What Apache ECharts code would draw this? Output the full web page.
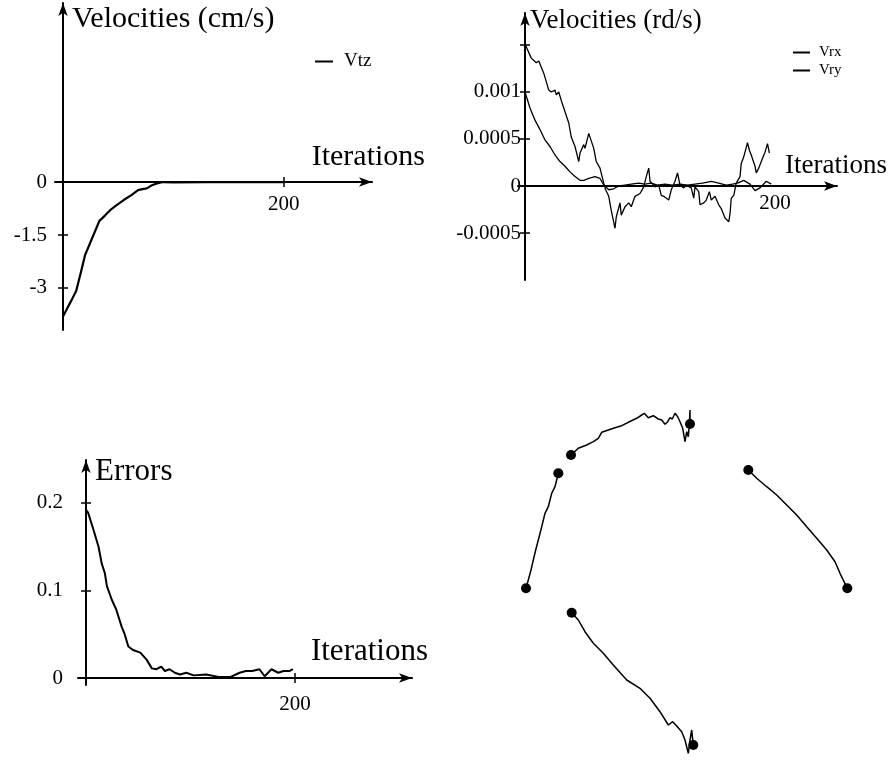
<!DOCTYPE html>
<html>
<head>
<meta charset="utf-8">
<script src="https://cdn.jsdelivr.net/npm/echarts@6.0.0/dist/echarts.min.js"></script>
<style>
  html, body { margin: 0; padding: 0; background: #fff; }
  #main { width: 890px; height: 765px; }
</style>
</head>
<body>
<div id="main"></div>
<script>
// --- panel 1 : translational velocity (cm/s)
var vtzIter = [0, 4, 8, 12, 16, 20, 26, 33, 38, 43, 48, 55, 62, 68, 72, 76, 80, 85, 91, 100, 130, 170, 200];
var vtzVal = [-3.81, -3.57, -3.33, -3.08, -2.58, -2.07, -1.62, -1.1, -0.95, -0.79, -0.67, -0.51, -0.37, -0.23, -0.2, -0.18, -0.1, -0.04, 0, -0.01, 0, 0, 0];

// --- panel 2 : rotational velocities (rd/s)
var vrxIter = [0, 5, 9, 11, 15, 19, 21, 24, 25, 27, 29, 32, 35, 37, 40, 43, 44, 47, 48, 51, 52, 55, 57, 60, 63, 64.5, 67, 69, 72, 73, 76, 77, 80, 83, 85, 88, 92, 95, 97, 99, 100, 104, 107, 109, 111, 115, 117, 120, 122, 124, 127, 129, 133, 135, 136, 139, 140, 143, 145, 147.5, 149, 152, 155, 157, 160, 163, 164, 165, 167, 169, 172, 173, 175, 176, 178, 179.5, 181, 184, 185, 187, 189, 192, 194, 195.5];
var vrxVal = [0.00151, 0.00136, 0.00131, 0.00133, 0.0012, 0.00102, 0.001, 0.00102, 0.00097, 0.001, 0.00091, 0.00079, 0.00067, 0.00052, 0.00042, 0.00026, 0.00035, 0.00044, 0.0004, 0.00056, 0.00054, 0.0004, 0.00026, 0.00019, 0.00003, -0.00004, -0.00011, -0.00026, -0.00045, -0.00033, -0.00018, -0.00031, -0.00022, -0.00018, -0.00022, -0.00011, -0.00008, -0.00001, 0.0001, 0.00019, 0.00005, -0.00001, 0.00001, -0.0001, -0.00011, -0.00015, -0.00004, 0.00005, 0.00014, 0.00001, -0.00002, 0.00001, -0.00002, -0.00013, -0.00001, -0.00006, -0.0002, -0.00018, -0.00015, -0.00006, -0.00015, -0.00011, -0.0002, -0.00024, -0.00034, -0.00038, -0.0003, -0.00013, -0.0001, 0.00003, 0.0001, 0.00024, 0.00031, 0.00036, 0.00046, 0.00038, 0.00033, 0.00021, 0.00014, 0.00019, 0.00026, 0.00036, 0.00045, 0.00035];
var vryIter = [0, 4, 8, 12, 16, 20, 24, 28, 32, 36, 40, 44, 47, 51, 56, 60, 63, 67, 71, 75, 80, 85, 91, 96, 101, 106, 112, 118, 124, 130, 136, 142, 149, 155, 161, 166, 170, 175, 180, 184, 188, 193, 197];
var vryVal = [0.001, 0.00083, 0.0007, 0.0006, 0.00049, 0.00042, 0.00033, 0.00026, 0.00021, 0.00015, 0.0001, 0.00006, 0.00006, 0.00008, 0.0001, 0.00008, 0.00001, -0.00004, -0.00003, 0, 0.00001, 0.00002, 0.00003, 0.00002, 0.00003, 0.00001, 0.00002, 0.00001, 0.00002, 0.00001, 0.00002, 0.00003, 0.00005, 0.00003, 0.00001, 0.00002, 0.00003, 0.00006, 0.00002, -0.00005, -0.00002, 0.00005, 0.00002];

// --- panel 3 : errors
var errIter = [0, 2, 7, 12, 15, 18, 20, 24.5, 29, 34, 37, 40.5, 45, 52, 58, 63, 67.5, 72, 75.5, 80, 85, 90, 96, 103, 115, 128, 138, 147, 153, 159, 166, 171, 177.5, 184, 189, 195, 198];
var errVal = [0.192, 0.189, 0.17, 0.15, 0.131, 0.12, 0.105, 0.09, 0.078, 0.059, 0.05, 0.036, 0.032, 0.029, 0.021, 0.011, 0.01, 0.013, 0.008, 0.01, 0.006, 0.004, 0.006, 0.003, 0.004, 0.001, 0.001, 0.006, 0.008, 0.008, 0.01, 0.002, 0.01, 0.006, 0.008, 0.008, 0.01];

// --- panel 4 : image trajectories of the four points (image pixels, v downwards)
var traj1 = [[91, 75], [98.3, 68.3], [106.7, 65], [113.3, 61.7], [118.3, 58.3], [121.7, 52.3], [128.3, 50], [135, 47.7], [141.7, 45.7], [148.3, 42.3], [156.7, 38.3], [161.7, 35], [164.3, 33.3], [168.3, 37.7], [173.3, 35.7], [178.3, 39], [181.7, 40], [185, 44.3], [187.7, 41.7], [190, 37.7], [192.3, 39], [195, 33.3], [197.7, 36.7], [200, 41.7], [202.7, 48.3], [205, 61.7], [206.7, 51.7], [208.3, 56.7], [209.3, 45], [210, 30], [210, 44]];
var traj2 = [[78.3, 93.3], [75, 106.7], [71.7, 113.3], [68.3, 126.7], [65, 133.3], [61.7, 146.7], [58.3, 160], [55.7, 170], [53.3, 180], [51, 190], [48.3, 200], [46, 208.3]];
var traj3 = [[268.3, 90], [276.7, 98.3], [286.7, 106.7], [296.7, 115], [306.7, 125], [316.7, 135], [326.7, 146.7], [336.7, 158.3], [346.7, 170], [355, 181.7], [360, 193.3], [367.3, 208.3]];
var traj4 = [[91.7, 232.7], [98.3, 240], [105, 251.7], [113.3, 263.3], [123.3, 273.3], [133.3, 285], [146.7, 300], [160, 308.3], [170, 318.3], [180, 331.7], [188.3, 345], [192.7, 341.7], [196.7, 346], [201.7, 351.7], [205, 360], [208.3, 373.3], [210, 360], [211.7, 350], [213.3, 365]];

var FONT = "'Liberation Serif', 'Times New Roman', serif";

function zip(xs, ys) {
    return xs.map(function (x, i) { return [x, ys[i]]; });
}

// one plain axis with an arrow at its end and only the wanted ticks
// (offset pulls the axis into the grid so that it crosses the other one at zero)
function arrowAxis(grid, pos, offset, min, max, ticks, labels, margin, name, nameOpts) {
    return {
        type: 'value',
        gridIndex: grid,
        position: pos,
        offset: offset,
        min: min,
        max: max,
        name: name,
        nameLocation: 'end',
        nameGap: nameOpts.gap,
        nameTextStyle: {
            fontFamily: FONT,
            fontSize: nameOpts.size,
            color: '#000',
            align: nameOpts.align,
            verticalAlign: nameOpts.valign,
            padding: nameOpts.padding
        },
        axisLine: {
            show: true,
            onZero: false,
            symbol: ['none', 'arrow'],
            symbolSize: [7, 13],
            lineStyle: { color: '#000', width: 2 }
        },
        axisTick: {
            show: ticks.length > 0,
            length: 5,
            customValues: ticks,
            lineStyle: { color: '#000', width: 1.5 }
        },
        axisLabel: {
            customValues: labels,
            margin: margin,
            fontFamily: FONT,
            fontSize: 21,
            color: '#000'
        },
        splitLine: { show: false }
    };
}

// twin axis that only draws the inner half of the ticks, so they cross the line
function tickAxis(grid, pos, offset, min, max, ticks) {
    return {
        type: 'value',
        gridIndex: grid,
        position: pos,
        offset: offset,
        min: min,
        max: max,
        axisLine: { show: false, onZero: false },
        axisTick: {
            show: true,
            inside: true,
            length: 5,
            customValues: ticks,
            lineStyle: { color: '#000', width: 1.5 }
        },
        axisLabel: { show: false },
        splitLine: { show: false }
    };
}

var myChart = echarts.init(document.getElementById('main'));

var option = {
    backgroundColor: '#fff',
    animation: false,
    grid: [
        { left: 55, top: 3, width: 317, height: 327 },
        { left: 518, top: 13, width: 319, height: 267 },
        { left: 78, top: 460, width: 334, height: 225 },
        { left: 480, top: 380, width: 400, height: 385 }
    ],
    xAxis: [
        arrowAxis(0, 'bottom', -148, -7.24, 280, [200], [200], 12, 'Iterations', { gap: 53, size: 30, align: 'right', valign: 'bottom', padding: [0, 0, 10, 0] }),
        arrowAxis(1, 'bottom', -94, -5.6, 249.6, [], [200], 7, 'Iterations', { gap: 50, size: 27, align: 'right', valign: 'bottom', padding: [0, 0, 7, 0] }),
        arrowAxis(2, 'bottom', -7, -7.66, 312, [200], [200], 16, 'Iterations', { gap: 16, size: 31, align: 'right', valign: 'bottom', padding: [0, 0, 11, 0] }),
        { type: 'value', gridIndex: 3, min: 0, max: 400, show: false },
        tickAxis(0, 'bottom', -148, -7.24, 280, [200]),
        tickAxis(2, 'bottom', -7, -7.66, 312, [200])
    ],
    yAxis: [
        arrowAxis(0, 'left', -8, -4.19, 5.07, [-3, -1.5], [-3, -1.5, 0], 16, 'Velocities (cm/s)', { gap: -16, size: 30, align: 'left', valign: 'middle', padding: [0, 0, 0, 9] }),
        arrowAxis(1, 'left', -7, -0.001, 0.00184, [-0.0005, 0.0005, 0.001, 0.0015], [-0.0005, 0, 0.0005, 0.001], 4, 'Velocities (rd/s)', { gap: -8, size: 27, align: 'left', valign: 'middle', padding: [0, 0, 0, 5] }),
        arrowAxis(2, 'left', -8, -0.008, 0.2491, [0.1, 0.2], [0, 0.1, 0.2], 23, 'Errors', { gap: -12, size: 31, align: 'left', valign: 'middle', padding: [0, 0, 0, 9] }),
        { type: 'value', gridIndex: 3, min: 0, max: 385, inverse: true, show: false },
        tickAxis(0, 'left', -8, -4.19, 5.07, [-3, -1.5]),
        tickAxis(1, 'left', -7, -0.001, 0.00184, [-0.0005, 0.0005, 0.001, 0.0015]),
        tickAxis(2, 'left', -8, -0.008, 0.2491, [0.1, 0.2])
    ],
    legend: [
        {
            data: ['Vtz'],
            left: 310, top: 47,
            icon: 'rect', itemWidth: 18, itemHeight: 2,
            selectedMode: false,
            textStyle: { fontFamily: FONT, fontSize: 19, color: '#000', padding: [0, 0, 0, 6] }
        },
        {
            data: ['Vrx', 'Vry'],
            orient: 'vertical',
            left: 788, top: 40,
            icon: 'rect', itemWidth: 17, itemHeight: 2, itemGap: 3,
            selectedMode: false,
            textStyle: { fontFamily: FONT, fontSize: 15, color: '#000', padding: [0, 0, 0, 4] }
        }
    ],
    series: [
        {
            name: 'Vtz', type: 'line', xAxisIndex: 0, yAxisIndex: 0,
            data: zip(vtzIter, vtzVal), showSymbol: false, color: '#000',
            lineStyle: { color: '#000', width: 2.2 }
        },
        {
            name: 'Vrx', type: 'line', xAxisIndex: 1, yAxisIndex: 1,
            data: zip(vrxIter, vrxVal), showSymbol: false, color: '#000',
            lineStyle: { color: '#000', width: 1.3 }
        },
        {
            name: 'Vry', type: 'line', xAxisIndex: 1, yAxisIndex: 1,
            data: zip(vryIter, vryVal), showSymbol: false, color: '#000',
            lineStyle: { color: '#000', width: 1.3 }
        },
        {
            name: 'Errors', type: 'line', xAxisIndex: 2, yAxisIndex: 2,
            data: zip(errIter, errVal), showSymbol: false, color: '#000',
            lineStyle: { color: '#000', width: 2 }
        }
    ]
};

// trajectories + start/end dots
[traj1, traj2, traj3, traj4].forEach(function (t, i) {
    option.series.push({
        name: 'traj' + (i + 1), type: 'line', xAxisIndex: 3, yAxisIndex: 3,
        data: t, showSymbol: false, color: '#000',
        lineStyle: { color: '#000', width: 1.5 }
    });
    option.series.push({
        name: 'ends' + (i + 1), type: 'scatter', xAxisIndex: 3, yAxisIndex: 3,
        data: [t[0], t[t.length - 1]], symbolSize: 10,
        itemStyle: { color: '#000', opacity: 1 }, z: 3
    });
});

option && myChart.setOption(option);
</script>
</body>
</html>
